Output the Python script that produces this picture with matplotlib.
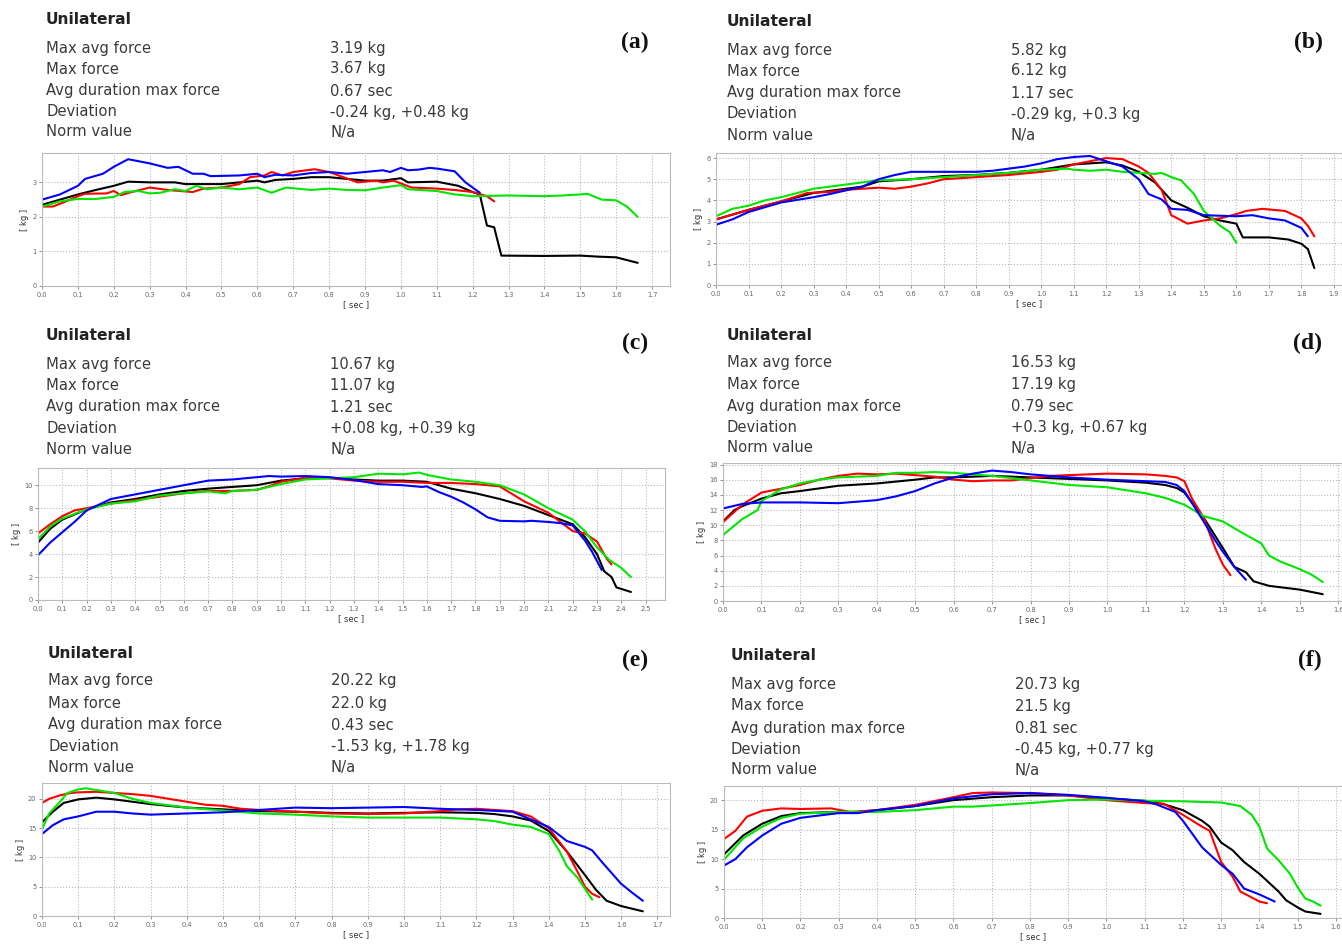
import matplotlib
matplotlib.use("Agg")
import matplotlib.pyplot as plt
import numpy as np

W, H = 1342, 947

# ---------------- data ----------------
# Panel (a)
a_black_t = [0, .05, .1, .15, .2, .24, .3, .37, .4, .5, .55, .6, .62, .65, .7, .75, .8, .85, .9, .95, 1.0, 1.02, 1.1, 1.16, 1.2, 1.22, 1.24, 1.26, 1.28, 1.4, 1.5, 1.55, 1.6, 1.63, 1.66]
a_black_f = [2.35, 2.5, 2.65, 2.78, 2.9, 3.02, 3.0, 3.0, 2.95, 2.95, 3.0, 3.05, 3.0, 3.07, 3.1, 3.15, 3.15, 3.1, 3.05, 3.05, 3.12, 3.0, 3.02, 2.9, 2.72, 2.65, 1.75, 1.7, 0.88, 0.87, 0.88, 0.85, 0.83, 0.75, 0.67]
a_red_t = [0, .03, .06, .1, .12, .18, .2, .22, .25, .3, .35, .42, .45, .5, .55, .58, .62, .64, .67, .7, .76, .8, .84, .88, .93, .95, .98, 1.0, 1.03, 1.1, 1.15, 1.2, 1.24, 1.26]
a_red_f = [2.3, 2.3, 2.42, 2.6, 2.67, 2.68, 2.75, 2.63, 2.72, 2.85, 2.78, 2.72, 2.82, 2.85, 2.95, 3.15, 3.2, 3.3, 3.2, 3.3, 3.38, 3.3, 3.15, 3.0, 3.05, 3.0, 3.05, 2.97, 2.85, 2.82, 2.78, 2.72, 2.6, 2.45]
a_green_t = [0, .05, .1, .15, .2, .23, .27, .3, .33, .37, .4, .43, .46, .5, .55, .6, .64, .68, .75, .8, .85, .9, .95, 1.0, 1.02, 1.1, 1.15, 1.2, 1.3, 1.4, 1.45, 1.5, 1.52, 1.56, 1.6, 1.63, 1.66]
a_green_f = [2.3, 2.45, 2.52, 2.52, 2.58, 2.72, 2.75, 2.68, 2.7, 2.8, 2.75, 2.9, 2.8, 2.85, 2.8, 2.85, 2.7, 2.85, 2.78, 2.82, 2.78, 2.77, 2.85, 2.92, 2.8, 2.75, 2.65, 2.6, 2.62, 2.6, 2.62, 2.65, 2.67, 2.5, 2.48, 2.3, 2.0]
a_blue_t = [0, .05, .1, .12, .17, .2, .24, .3, .35, .38, .42, .45, .47, .55, .6, .62, .65, .7, .75, .8, .85, .9, .95, .97, 1.0, 1.02, 1.05, 1.08, 1.1, 1.15, 1.18, 1.22]
a_blue_f = [2.5, 2.65, 2.9, 3.1, 3.25, 3.45, 3.67, 3.55, 3.42, 3.45, 3.25, 3.25, 3.18, 3.2, 3.25, 3.15, 3.22, 3.2, 3.27, 3.3, 3.25, 3.3, 3.35, 3.3, 3.42, 3.35, 3.37, 3.42, 3.4, 3.32, 3.0, 2.7]

# Panel (b)
b_black_t = [0, .1, .2, .3, .4, .45, .5, .6, .7, .8, .9, 1.0, 1.1, 1.2, 1.25, 1.3, 1.35, 1.4, 1.45, 1.5, 1.55, 1.6, 1.62, 1.7, 1.76, 1.8, 1.82, 1.84]
b_black_f = [3.1, 3.55, 3.95, 4.35, 4.55, 4.65, 4.9, 5.0, 5.15, 5.2, 5.3, 5.45, 5.7, 5.8, 5.65, 5.35, 4.85, 4.0, 3.65, 3.25, 3.05, 2.9, 2.25, 2.25, 2.15, 1.95, 1.7, 0.8]
b_red_t = [0, .1, .2, .28, .35, .4, .5, .55, .6, .65, .7, .8, .9, 1.0, 1.05, 1.1, 1.15, 1.2, 1.25, 1.3, 1.33, 1.37, 1.4, 1.45, 1.5, 1.55, 1.6, 1.63, 1.68, 1.75, 1.8, 1.82, 1.84]
b_red_f = [3.1, 3.55, 3.95, 4.35, 4.4, 4.5, 4.6, 4.55, 4.65, 4.8, 5.0, 5.1, 5.2, 5.35, 5.45, 5.7, 5.85, 6.0, 5.95, 5.6, 5.3, 4.5, 3.3, 2.9, 3.05, 3.15, 3.35, 3.5, 3.6, 3.5, 3.15, 2.8, 2.3]
b_green_t = [0, .05, .1, .15, .2, .25, .3, .4, .5, .6, .7, .8, .9, 1.0, 1.08, 1.1, 1.15, 1.2, 1.25, 1.3, 1.35, 1.37, 1.4, 1.43, 1.47, 1.5, 1.55, 1.58, 1.6]
b_green_f = [3.25, 3.6, 3.75, 4.0, 4.15, 4.35, 4.55, 4.75, 4.95, 5.0, 5.1, 5.2, 5.3, 5.45, 5.5, 5.45, 5.4, 5.45, 5.35, 5.3, 5.25, 5.3, 5.1, 4.95, 4.3, 3.5, 2.8, 2.5, 2.0]
b_blue_t = [0, .05, .1, .2, .3, .35, .45, .5, .55, .6, .7, .8, .85, .9, .95, 1.0, 1.05, 1.1, 1.15, 1.2, 1.25, 1.3, 1.33, 1.37, 1.4, 1.45, 1.5, 1.6, 1.65, 1.7, 1.75, 1.8, 1.82]
b_blue_f = [2.85, 3.1, 3.45, 3.9, 4.15, 4.3, 4.65, 5.0, 5.2, 5.35, 5.35, 5.35, 5.4, 5.5, 5.6, 5.75, 5.95, 6.05, 6.1, 5.85, 5.6, 5.0, 4.3, 4.05, 3.6, 3.55, 3.3, 3.25, 3.3, 3.15, 3.05, 2.7, 2.3]

# Panel (c)
c_black_t = [0, .05, .1, .2, .3, .4, .5, .6, .7, .8, .9, 1.0, 1.1, 1.2, 1.3, 1.4, 1.5, 1.6, 1.7, 1.8, 1.9, 2.0, 2.1, 2.2, 2.25, 2.3, 2.33, 2.36, 2.38, 2.44]
c_black_f = [5.0, 6.2, 7.0, 7.9, 8.5, 8.8, 9.2, 9.5, 9.7, 9.85, 10.0, 10.4, 10.6, 10.65, 10.5, 10.4, 10.4, 10.3, 9.7, 9.3, 8.8, 8.2, 7.4, 6.6, 5.5, 4.0, 2.5, 2.0, 1.1, 0.7]
c_red_t = [0, .05, .1, .15, .2, .3, .4, .5, .6, .7, .8, .9, .95, 1.0, 1.1, 1.2, 1.3, 1.4, 1.5, 1.6, 1.7, 1.8, 1.9, 2.0, 2.1, 2.15, 2.2, 2.25, 2.3, 2.34, 2.36]
c_red_f = [5.8, 6.6, 7.3, 7.8, 8.0, 8.4, 8.7, 9.0, 9.3, 9.5, 9.5, 9.6, 9.9, 10.3, 10.65, 10.6, 10.4, 10.3, 10.3, 10.2, 10.2, 10.1, 9.9, 8.6, 7.6, 6.8, 6.0, 5.8, 5.1, 3.6, 3.1]
c_green_t = [0, .05, .1, .2, .3, .4, .5, .6, .7, .77, .8, .9, 1.0, 1.1, 1.2, 1.3, 1.4, 1.5, 1.57, 1.6, 1.7, 1.8, 1.9, 2.0, 2.1, 2.2, 2.25, 2.3, 2.35, 2.4, 2.44]
c_green_f = [5.3, 6.4, 7.1, 7.9, 8.4, 8.6, 9.1, 9.3, 9.45, 9.3, 9.5, 9.6, 10.1, 10.5, 10.6, 10.7, 11.0, 10.95, 11.1, 10.9, 10.5, 10.3, 10.0, 9.2, 8.0, 7.0, 6.0, 4.6, 3.5, 2.8, 2.0]
c_blue_t = [0, .05, .1, .15, .2, .25, .3, .4, .5, .6, .7, .8, .9, .95, 1.0, 1.1, 1.2, 1.3, 1.4, 1.5, 1.58, 1.6, 1.65, 1.7, 1.75, 1.8, 1.85, 1.9, 2.0, 2.03, 2.1, 2.15, 2.2, 2.25, 2.28, 2.32]
c_blue_f = [3.9, 5.0, 5.9, 6.8, 7.8, 8.3, 8.8, 9.2, 9.6, 10.0, 10.4, 10.5, 10.7, 10.8, 10.75, 10.8, 10.7, 10.45, 10.1, 10.0, 9.85, 9.9, 9.4, 9.0, 8.5, 7.9, 7.2, 6.9, 6.85, 6.9, 6.8, 6.7, 6.5, 5.2, 4.2, 2.6]

# Panel (d)
d_black_t = [0, .03, .05, .1, .15, .2, .3, .4, .5, .55, .6, .7, .8, .9, 1.0, 1.1, 1.15, 1.18, 1.2, 1.25, 1.3, 1.33, 1.36, 1.38, 1.42, 1.5, 1.56]
d_black_f = [10.5, 12.0, 12.5, 13.5, 14.2, 14.5, 15.2, 15.5, 16.0, 16.3, 16.3, 16.5, 16.3, 16.1, 15.9, 15.6, 15.3, 14.9, 14.3, 11.0, 7.0, 4.5, 3.8, 2.6, 2.0, 1.5, 0.9]
d_red_t = [0, .05, .1, .15, .2, .25, .3, .35, .4, .45, .5, .55, .6, .65, .7, .75, .8, .85, .9, 1.0, 1.1, 1.15, 1.18, 1.2, 1.22, 1.25, 1.28, 1.3, 1.32]
d_red_f = [10.4, 12.7, 14.3, 14.8, 15.3, 16.0, 16.5, 16.8, 16.7, 16.8, 16.6, 16.4, 16.0, 15.8, 15.9, 15.9, 16.2, 16.5, 16.6, 16.8, 16.7, 16.5, 16.3, 15.8, 13.5, 11.0, 7.0, 4.8, 3.4]
d_green_t = [0, .05, .09, .1, .15, .2, .25, .3, .4, .45, .5, .55, .6, .7, .8, .9, 1.0, 1.1, 1.15, 1.2, 1.25, 1.3, 1.35, 1.4, 1.42, 1.45, 1.5, 1.53, 1.56]
d_green_f = [8.7, 10.8, 12.0, 13.2, 14.7, 15.5, 16.0, 16.3, 16.5, 16.9, 16.9, 17.0, 16.9, 16.5, 15.9, 15.3, 15.0, 14.2, 13.6, 12.7, 11.2, 10.5, 9.0, 7.6, 6.0, 5.2, 4.2, 3.5, 2.5]
d_blue_t = [0, .05, .1, .2, .3, .4, .45, .5, .55, .6, .65, .7, .75, .8, .9, 1.0, 1.1, 1.15, 1.18, 1.2, 1.25, 1.28, 1.3, 1.33, 1.36]
d_blue_f = [12.2, 12.8, 13.0, 13.0, 12.9, 13.3, 13.8, 14.5, 15.5, 16.3, 16.8, 17.2, 17.0, 16.7, 16.3, 16.0, 15.8, 15.7, 15.3, 14.5, 10.5, 8.0, 6.5, 4.5, 2.8]

# Panel (e)
e_black_t = [0, .03, .06, .1, .15, .2, .3, .4, .5, .6, .7, .8, .9, 1.0, 1.1, 1.2, 1.25, 1.3, 1.35, 1.4, 1.45, 1.5, 1.53, 1.56, 1.6, 1.66]
e_black_f = [16.0, 17.8, 19.3, 19.9, 20.2, 19.9, 19.1, 18.5, 18.2, 17.9, 17.8, 17.6, 17.5, 17.6, 17.7, 17.6, 17.4, 17.0, 16.3, 14.5, 11.0, 7.0, 4.5, 2.6, 1.7, 0.8]
e_red_t = [0, .02, .05, .08, .1, .15, .2, .25, .3, .35, .4, .45, .5, .55, .6, .7, .8, .9, 1.0, 1.1, 1.15, 1.2, 1.3, 1.35, 1.4, 1.45, 1.48, 1.5, 1.52, 1.54]
e_red_f = [19.3, 20.0, 20.6, 21.0, 21.1, 21.2, 21.0, 20.8, 20.5, 20.0, 19.5, 19.0, 18.8, 18.3, 18.1, 17.8, 17.5, 17.4, 17.5, 17.9, 18.2, 18.3, 17.9, 17.0, 15.0, 11.0, 7.5, 5.0, 3.8, 3.2]
e_green_t = [0, .02, .05, .07, .1, .12, .15, .2, .25, .3, .4, .5, .6, .7, .8, .9, 1.0, 1.1, 1.2, 1.25, 1.3, 1.35, 1.4, 1.43, 1.45, 1.48, 1.52]
e_green_f = [14.8, 17.5, 19.5, 21.0, 21.6, 21.8, 21.5, 21.0, 20.0, 19.3, 18.5, 18.0, 17.5, 17.3, 17.0, 16.8, 16.8, 16.8, 16.5, 16.2, 15.6, 15.2, 14.0, 11.0, 8.5, 6.5, 2.8]
e_blue_t = [0, .03, .06, .1, .15, .2, .25, .3, .4, .5, .6, .7, .8, .9, 1.0, 1.1, 1.2, 1.3, 1.35, 1.4, 1.45, 1.5, 1.52, 1.55, 1.6, 1.63, 1.66]
e_blue_f = [14.0, 15.5, 16.5, 17.0, 17.8, 17.8, 17.5, 17.3, 17.5, 17.7, 18.1, 18.5, 18.4, 18.5, 18.6, 18.3, 18.1, 17.8, 16.5, 15.2, 12.8, 11.8, 11.2, 9.0, 5.5, 4.0, 2.6]

# Panel (f)
f_black_t = [0, .05, .1, .15, .2, .3, .35, .4, .5, .6, .7, .8, .9, 1.0, 1.1, 1.15, 1.2, 1.25, 1.27, 1.3, 1.33, 1.36, 1.4, 1.45, 1.47, 1.5, 1.52, 1.56]
f_black_f = [10.8, 14.0, 16.0, 17.3, 17.8, 18.0, 18.0, 18.3, 19.0, 20.0, 20.5, 20.8, 20.8, 20.3, 19.9, 19.3, 18.3, 16.5, 15.5, 12.8, 11.5, 9.5, 7.5, 4.5, 3.0, 1.8, 1.1, 0.7]
f_red_t = [0, .03, .06, .1, .15, .2, .28, .33, .4, .5, .6, .65, .7, .8, .9, 1.0, 1.1, 1.15, 1.2, 1.25, 1.27, 1.3, 1.33, 1.35, 1.4, 1.42]
f_red_f = [13.4, 14.8, 17.2, 18.2, 18.6, 18.5, 18.6, 18.0, 18.3, 19.2, 20.5, 21.2, 21.3, 21.2, 20.8, 20.0, 19.5, 19.4, 17.5, 15.5, 14.8, 9.5, 7.0, 4.5, 2.8, 2.5]
f_green_t = [0, .05, .1, .15, .2, .3, .4, .5, .6, .65, .7, .8, .9, 1.0, 1.1, 1.2, 1.3, 1.35, 1.38, 1.4, 1.42, 1.45, 1.48, 1.5, 1.52, 1.54, 1.56]
f_green_f = [9.9, 13.5, 15.5, 17.0, 17.7, 18.0, 18.0, 18.3, 18.9, 18.9, 19.1, 19.5, 20.0, 20.1, 19.9, 19.8, 19.6, 19.0, 17.5, 15.5, 11.8, 9.8, 7.5, 5.2, 3.3, 2.8, 2.1]
f_blue_t = [0, .03, .06, .1, .15, .2, .3, .35, .4, .5, .6, .7, .8, .9, 1.0, 1.1, 1.13, 1.18, 1.2, 1.25, 1.3, 1.33, 1.36, 1.4, 1.44]
f_blue_f = [8.9, 10.0, 12.0, 14.0, 16.0, 17.0, 17.8, 17.8, 18.3, 19.0, 20.3, 21.0, 21.2, 20.9, 20.4, 19.8, 19.3, 18.0, 16.5, 12.0, 9.0, 7.5, 5.0, 4.0, 2.8]

# Summary texts
row_labels = ["Max avg force", "Max force", "Avg duration max force", "Deviation", "Norm value"]
a_values = ["3.19 kg", "3.67 kg", "0.67 sec", "-0.24 kg, +0.48 kg", "N/a"]
b_values = ["5.82 kg", "6.12 kg", "1.17 sec", "-0.29 kg, +0.3 kg", "N/a"]
c_values = ["10.67 kg", "11.07 kg", "1.21 sec", "+0.08 kg, +0.39 kg", "N/a"]
d_values = ["16.53 kg", "17.19 kg", "0.79 sec", "+0.3 kg, +0.67 kg", "N/a"]
e_values = ["20.22 kg", "22.0 kg", "0.43 sec", "-1.53 kg, +1.78 kg", "N/a"]
f_values = ["20.73 kg", "21.5 kg", "0.81 sec", "-0.45 kg, +0.77 kg", "N/a"]
panel_tags = ["(a)", "(b)", "(c)", "(d)", "(e)", "(f)"]
a_yticks = [0, 1, 2, 3]
b_yticks = [0, 1, 2, 3, 4, 5, 6]
c_yticks = [0, 2, 4, 6, 8, 10]
d_yticks = [0, 2, 4, 6, 8, 10, 12, 14, 16, 18]
e_yticks = [0, 5, 10, 15, 20]
f_yticks = [0, 5, 10, 15, 20]

# ---------------- layout ----------------
panels = [
    dict(series=[(a_black_t, a_black_f), (a_red_t, a_red_f), (a_green_t, a_green_f), (a_blue_t, a_blue_f)],
         values=a_values, tag=panel_tags[0], yticks=a_yticks, xmax=1.75, ymax=3.85, xtick_max=1.7,
         box=(42, 153, 670, 286), title=(46, 20), rows=[48, 69, 91, 112, 132], vx=330, tagxy=(635, 42)),
    dict(series=[(b_black_t, b_black_f), (b_red_t, b_red_f), (b_green_t, b_green_f), (b_blue_t, b_blue_f)],
         values=b_values, tag=panel_tags[1], yticks=b_yticks, xmax=1.925, ymax=6.24, xtick_max=1.9,
         box=(716, 153, 1342, 285), title=(727, 22), rows=[50, 71, 93, 114, 135], vx=1011, tagxy=(1308, 42)),
    dict(series=[(c_black_t, c_black_f), (c_red_t, c_red_f), (c_green_t, c_green_f), (c_blue_t, c_blue_f)],
         values=c_values, tag=panel_tags[2], yticks=c_yticks, xmax=2.58, ymax=11.5, xtick_max=2.5,
         box=(38, 468, 665, 600), title=(46, 336), rows=[364, 385, 407, 428, 449], vx=330, tagxy=(635, 343)),
    dict(series=[(d_black_t, d_black_f), (d_red_t, d_red_f), (d_green_t, d_green_f), (d_blue_t, d_blue_f)],
         values=d_values, tag=panel_tags[3], yticks=d_yticks, xmax=1.61, ymax=18.2, xtick_max=1.6,
         box=(723, 463, 1342, 601), title=(727, 335), rows=[363, 384, 406, 427, 448], vx=1011, tagxy=(1308, 343)),
    dict(series=[(e_black_t, e_black_f), (e_red_t, e_red_f), (e_green_t, e_green_f), (e_blue_t, e_blue_f)],
         values=e_values, tag=panel_tags[4], yticks=e_yticks, xmax=1.735, ymax=22.7, xtick_max=1.7,
         box=(42, 783, 670, 916), title=(48, 653), rows=[681, 703, 725, 746, 767], vx=331, tagxy=(635, 660)),
    dict(series=[(f_black_t, f_black_f), (f_red_t, f_red_f), (f_green_t, f_green_f), (f_blue_t, f_blue_f)],
         values=f_values, tag=panel_tags[5], yticks=f_yticks, xmax=1.616, ymax=22.4, xtick_max=1.6,
         box=(724, 786, 1342, 918), title=(731, 656), rows=[684, 706, 728, 749, 770], vx=1015, tagxy=(1310, 660)),
]
colors = ["#000000", "#ff0000", "#00e600", "#0000ff"]

fig = plt.figure(figsize=(W / 100, H / 100), dpi=100)
fig.patch.set_facecolor("white")

def fx(x):
    return x / W

def fy(y):
    return 1 - y / H

for p in panels:
    l, t, r, b = p["box"]
    ax = fig.add_axes([fx(l), fy(b), (r - l) / W, (b - t) / H])
    for (tt, ff), c in zip(p["series"], colors):
        ax.plot(tt, ff, color=c, lw=1.5, solid_joinstyle="round", solid_capstyle="round")
    ax.set_xlim(0, p["xmax"])
    ax.set_ylim(0, p["ymax"])
    n = int(round(p["xtick_max"] * 10))
    xt = [i / 10 for i in range(n + 1)]
    ax.set_xticks(xt)
    ax.set_xticklabels([f"{v:.1f}" for v in xt])
    ax.set_yticks(p["yticks"])
    ax.tick_params(labelsize=4.8, colors="#666666", length=2, width=0.5, pad=2)
    ax.grid(True, color="#b8b8b8", linestyle=":", linewidth=0.8)
    for s in ax.spines.values():
        s.set_color("#bbbbbb")
        s.set_linewidth(0.8)
    ax.set_xlabel("[ sec ]", fontsize=6, color="#333333", labelpad=2)
    ax.set_ylabel("[ kg ]", fontsize=6, color="#333333", labelpad=2)

    tx, ty = p["title"]
    fig.text(fx(tx), fy(ty), "Unilateral", fontsize=11.2, fontweight="bold",
             color="#222222", va="center", ha="left")
    for lab, val, ry in zip(row_labels, p["values"], p["rows"]):
        fig.text(fx(tx), fy(ry), lab, fontsize=10.6, color="#3a3a3a", va="center", ha="left")
        fig.text(fx(p["vx"]), fy(ry), val, fontsize=10.6, color="#3a3a3a", va="center", ha="left")
    gx, gy = p["tagxy"]
    fig.text(fx(gx), fy(gy), p["tag"], fontsize=17, family="Liberation Serif", fontweight="bold",
             color="#111111", va="center", ha="center")

fig.savefig("out.png", dpi=100, facecolor="white")
